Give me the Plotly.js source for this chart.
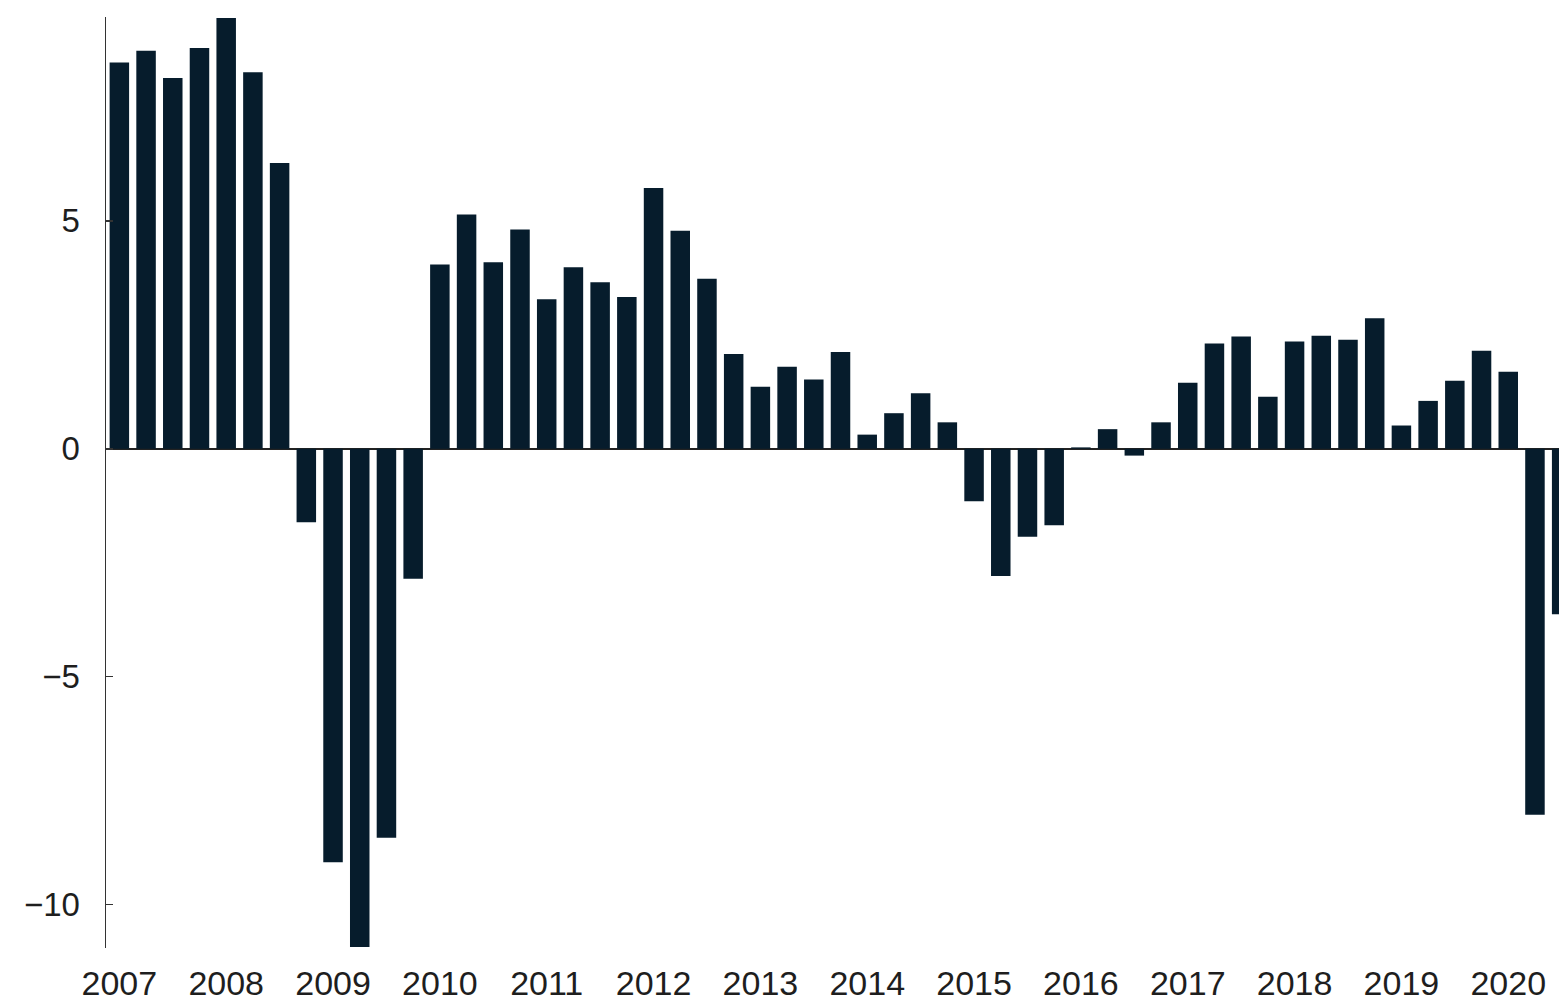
<!DOCTYPE html>
<html>
<head>
<meta charset="utf-8">
<script src="https://cdn.plot.ly/plotly-3.0.1.min.js"></script>
<style>
html,body{margin:0;padding:0;background:#fff;}
#chart{width:1559px;height:1007px;}
</style>
</head>
<body>
<div id="chart"></div>
<script>
// Quarterly categories 2007Q1 .. 2020Q3
const quarters = [
  "2007Q1","2007Q2","2007Q3","2007Q4",
  "2008Q1","2008Q2","2008Q3","2008Q4",
  "2009Q1","2009Q2","2009Q3","2009Q4",
  "2010Q1","2010Q2","2010Q3","2010Q4",
  "2011Q1","2011Q2","2011Q3","2011Q4",
  "2012Q1","2012Q2","2012Q3","2012Q4",
  "2013Q1","2013Q2","2013Q3","2013Q4",
  "2014Q1","2014Q2","2014Q3","2014Q4",
  "2015Q1","2015Q2","2015Q3","2015Q4",
  "2016Q1","2016Q2","2016Q3","2016Q4",
  "2017Q1","2017Q2","2017Q3","2017Q4",
  "2018Q1","2018Q2","2018Q3","2018Q4",
  "2019Q1","2019Q2","2019Q3","2019Q4",
  "2020Q1","2020Q2","2020Q3"
];
const values = [
  8.47, 8.73, 8.13, 8.79,
  9.45, 8.26, 6.27, -1.61,
  -9.07, -10.93, -8.53, -2.85,
  4.04, 5.14, 4.09, 4.81,
  3.28, 3.98, 3.65, 3.33,
  5.72, 4.78, 3.73, 2.08,
  1.36, 1.80, 1.52, 2.12,
  0.31, 0.78, 1.22, 0.58,
  -1.15, -2.79, -1.93, -1.68,
  0.03, 0.43, -0.15, 0.58,
  1.45, 2.31, 2.46, 1.14,
  2.35, 2.48, 2.39, 2.86,
  0.51, 1.05, 1.49, 2.15,
  1.69, -8.03, -3.63
];
const yearTickVals = ["2007Q1","2008Q1","2009Q1","2010Q1","2011Q1","2012Q1","2013Q1","2014Q1","2015Q1","2016Q1","2017Q1","2018Q1","2019Q1","2020Q1"];
const yearTickText = ["2007","2008","2009","2010","2011","2012","2013","2014","2015","2016","2017","2018","2019","2020"];
const yTickVals = [-10, -5, 0, 5];

const trace = {
  type: "bar",
  x: quarters,
  y: values,
  marker: {color: "#061c2c", line: {width: 0}},
  hoverinfo: "x+y"
};

const layout = {
  width: 1559,
  height: 1007,
  margin: {l: 106, r: 0, t: 17, b: 59},
  paper_bgcolor: "#ffffff",
  plot_bgcolor: "#ffffff",
  bargap: 0.27,
  showlegend: false,
  font: {family: "Liberation Sans, Arial, sans-serif", size: 33, color: "#1e1e1e"},
  xaxis: {
    type: "category",
    range: [-0.5, 53.9],
    tickmode: "array",
    tickvals: yearTickVals,
    ticktext: yearTickText,
    showgrid: false,
    showline: false,
    zeroline: false,
    ticks: "",
    ticklabelstandoff: 12,
    tickfont: {size: 34, color: "#1e1e1e"}
  },
  yaxis: {
    range: [-10.95, 9.47],
    tickmode: "array",
    tickvals: yTickVals,
    showgrid: false,
    showline: true,
    linecolor: "#333333",
    linewidth: 1.5,
    ticks: "inside",
    ticklen: 7,
    tickwidth: 1.5,
    tickcolor: "#333333",
    zeroline: true,
    zerolinecolor: "#222222",
    zerolinewidth: 2,
    ticklabelstandoff: 18,
    tickfont: {size: 33, color: "#1e1e1e"}
  }
};

Plotly.newPlot("chart", [trace], layout, {staticPlot: true, displayModeBar: false});
</script>
</body>
</html>
